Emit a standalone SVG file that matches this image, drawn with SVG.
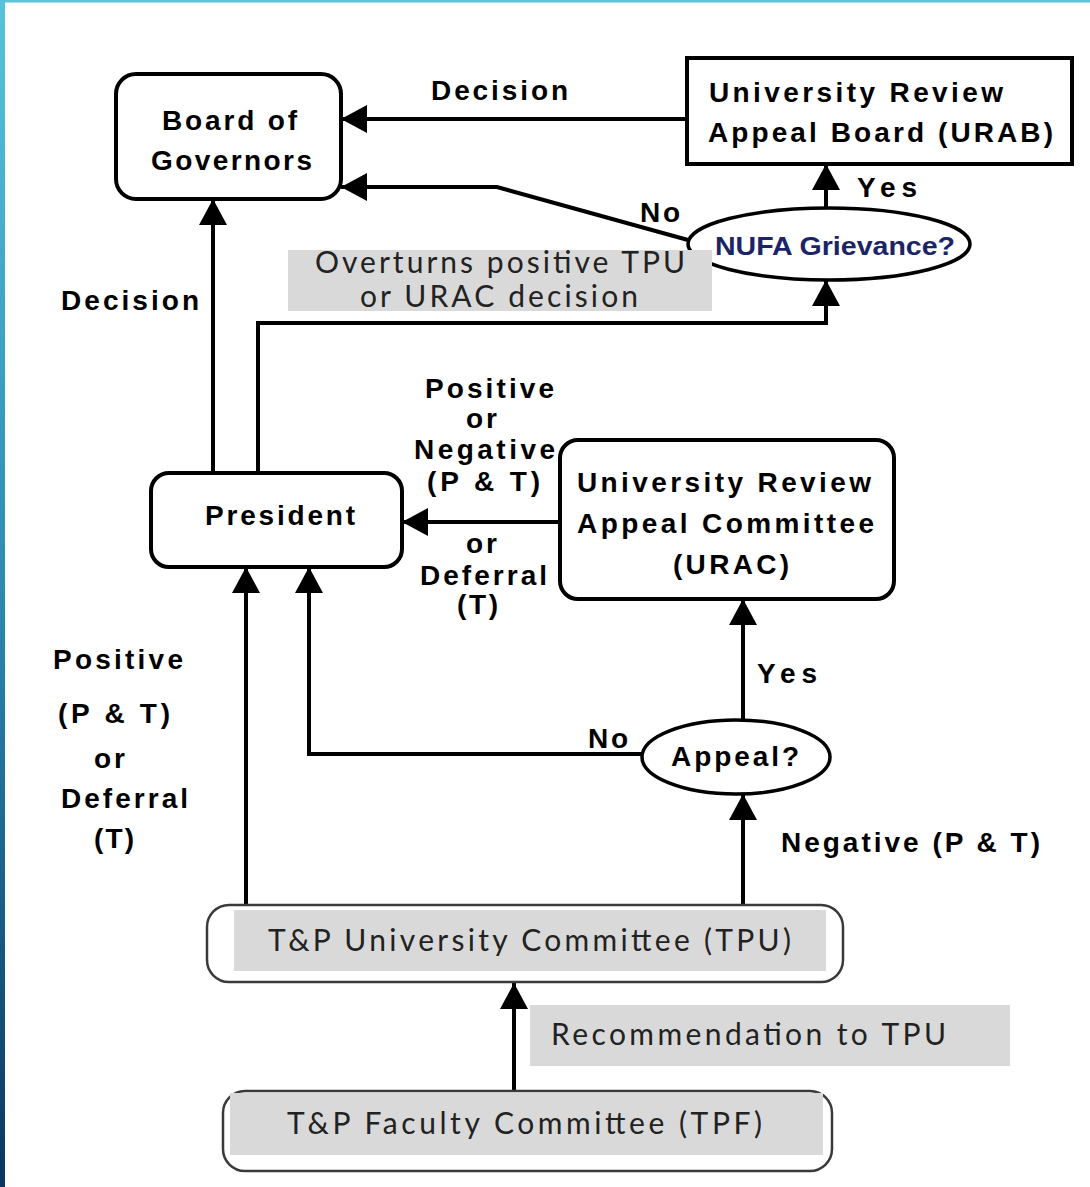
<svg xmlns="http://www.w3.org/2000/svg" width="1090" height="1187" viewBox="0 0 1090 1187">
<defs>
<linearGradient id="stripe" x1="0" y1="0" x2="0" y2="1">
<stop offset="0" stop-color="#55c4db"/>
<stop offset="0.5" stop-color="#2b8ab2"/>
<stop offset="1" stop-color="#0a3660"/>
</linearGradient>
<marker id="ah" markerUnits="userSpaceOnUse" viewBox="0 0 28 30" markerWidth="28" markerHeight="30" refX="26" refY="15" orient="auto">
<path d="M0,1 L26,15 L0,29 z" fill="#000"/>
</marker>
<style>
.box{fill:#fff;stroke:#000;stroke-width:4}
.soft{fill:#fff;stroke:#3a3a3a;stroke-width:2.5}
.gray{fill:#d9d9d9}
.edge{fill:none;stroke:#000;stroke-width:4;marker-end:url(#ah)}
.b{font-family:"Liberation Sans",Arial,sans-serif;font-weight:bold;font-size:28px;fill:#000}
.g{font-family:Lato,"Open Sans",sans-serif;font-size:30px;fill:#222}
.nufa{font-family:"Liberation Sans",Arial,sans-serif;font-weight:bold;font-size:26px;fill:#1c2468}
</style>
</defs>
<rect x="0" y="0" width="1090" height="1187" fill="#fff"/>
<rect x="0" y="0" width="1090" height="2.5" fill="#5bc5da"/>
<rect x="0" y="0" width="5" height="1187" fill="url(#stripe)"/>

<g id="connectors">
<path class="edge" d="M687,119 L341,119"/>
<path class="edge" d="M688,240 L497,187 L341,187"/>
<path class="edge" d="M826,208 L826,164"/>
<path class="edge" d="M213,473 L213,199"/>
<path class="edge" d="M258,473 L258,323 L826,323 L826,280"/>
<path class="edge" d="M560,522 L402,522"/>
<path class="edge" d="M246,905 L246,567"/>
<path class="edge" d="M641,754 L309,754 L309,567"/>
<path class="edge" d="M743,719 L743,599"/>
<path class="edge" d="M743,905 L743,794"/>
<path class="edge" d="M514,1091 L514,983"/>
</g>

<g id="board">
<rect class="box" x="116" y="74" width="225" height="125" rx="20"/>
<text class="b" x="162" y="130" textLength="135" lengthAdjust="spacing">Board of</text>
<text class="b" x="151" y="170" textLength="161" lengthAdjust="spacing">Governors</text>
</g>

<g id="urab">
<rect class="box" x="687" y="58" width="385" height="106"/>
<text class="b" x="709" y="102" textLength="294" lengthAdjust="spacing">University Review</text>
<text class="b" x="708" y="142" textLength="345" lengthAdjust="spacing">Appeal Board (URAB)</text>
</g>

<g id="nufa">
<ellipse class="box" cx="829" cy="244" rx="141" ry="36" style="stroke-width:3.5"/>
<text class="nufa" x="715" y="255" textLength="240" lengthAdjust="spacingAndGlyphs">NUFA Grievance?</text>
</g>

<g id="overturns-note">
<rect class="gray" x="288" y="250" width="424" height="61"/>
<text class="g" x="315" y="273" textLength="370" lengthAdjust="spacing">Overturns positive TPU</text>
<text class="g" x="360" y="307" textLength="278" lengthAdjust="spacing">or URAC decision</text>
</g>

<g id="president">
<rect class="box" x="151" y="473" width="251" height="94" rx="18"/>
<text class="b" x="205" y="525" textLength="150" lengthAdjust="spacing">President</text>
</g>

<g id="urac">
<rect class="box" x="560" y="440" width="334" height="159" rx="18"/>
<text class="b" x="577" y="492" textLength="294" lengthAdjust="spacing">University Review</text>
<text class="b" x="577" y="533" textLength="297" lengthAdjust="spacing">Appeal Committee</text>
<text class="b" x="673" y="574" textLength="116" lengthAdjust="spacing">(URAC)</text>
</g>

<g id="appeal">
<ellipse class="box" cx="736" cy="757" rx="94" ry="37" style="stroke-width:3.5"/>
<text class="b" x="671" y="766" textLength="128" lengthAdjust="spacing">Appeal?</text>
</g>

<g id="tpu">
<rect class="soft" x="207" y="905" width="636" height="77" rx="22"/>
<rect class="gray" x="234" y="910" width="592" height="61"/>
<text class="g" x="268" y="951" textLength="523" lengthAdjust="spacing">T&amp;P University Committee (TPU)</text>
</g>

<g id="recommendation-note">
<rect class="gray" x="530" y="1005" width="480" height="61"/>
<text class="g" x="551" y="1045" textLength="395" lengthAdjust="spacing">Recommendation to TPU</text>
</g>

<g id="tpf">
<rect class="soft" x="223" y="1091" width="609" height="80" rx="22"/>
<rect class="gray" x="230" y="1093" width="593" height="62"/>
<text class="g" x="287" y="1134" textLength="475" lengthAdjust="spacing">T&amp;P Faculty Committee (TPF)</text>
</g>

<g id="labels">
<text class="b" x="431" y="100" textLength="137" lengthAdjust="spacing">Decision</text>
<text class="b" x="857" y="197" textLength="60" lengthAdjust="spacing">Yes</text>
<text class="b" x="640" y="222" textLength="40" lengthAdjust="spacing">No</text>
<text class="b" x="61" y="310" textLength="138" lengthAdjust="spacing">Decision</text>
<text class="b" x="425" y="398" textLength="129" lengthAdjust="spacing">Positive</text>
<text class="b" x="466" y="428" textLength="31" lengthAdjust="spacing">or</text>
<text class="b" x="414" y="459" textLength="141" lengthAdjust="spacing">Negative</text>
<text class="b" x="427" y="491" textLength="113" lengthAdjust="spacing">(P &amp; T)</text>
<text class="b" x="466" y="553" textLength="31" lengthAdjust="spacing">or</text>
<text class="b" x="420" y="585" textLength="127" lengthAdjust="spacing">Deferral</text>
<text class="b" x="457" y="614" textLength="41" lengthAdjust="spacing">(T)</text>
<text class="b" x="53" y="669" textLength="130" lengthAdjust="spacing">Positive</text>
<text class="b" x="58" y="723" textLength="112" lengthAdjust="spacing">(P &amp; T)</text>
<text class="b" x="94" y="768" textLength="31" lengthAdjust="spacing">or</text>
<text class="b" x="61" y="808" textLength="127" lengthAdjust="spacing">Deferral</text>
<text class="b" x="94" y="848" textLength="40" lengthAdjust="spacing">(T)</text>
<text class="b" x="588" y="748" textLength="40" lengthAdjust="spacing">No</text>
<text class="b" x="757" y="683" textLength="60" lengthAdjust="spacing">Yes</text>
<text class="b" x="781" y="852" textLength="259" lengthAdjust="spacing">Negative (P &amp; T)</text>
</g>
</svg>
